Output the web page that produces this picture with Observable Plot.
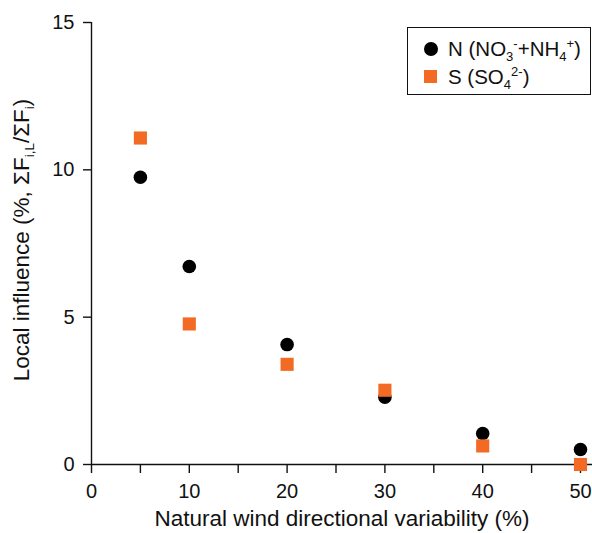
<!DOCTYPE html>
<html>
<head>
<meta charset="utf-8">
<script src="https://cdn.jsdelivr.net/npm/d3@7"></script>
<script src="https://cdn.jsdelivr.net/npm/@observablehq/plot@0.6"></script>
<style>
  html, body { margin: 0; padding: 0; background: #fff; }
  #wrap { position: relative; width: 592px; height: 533px; font-family: "Liberation Sans", Arial, sans-serif; }
  #legend { position: absolute; left: 407px; top: 27px; width: 184px; height: 68px; border: 1.3px solid #111; box-sizing: border-box; background: #fff; font-size: 20.5px; color: #111; }
  .item { position: absolute; left: 0; white-space: nowrap; }
  .sym { position: absolute; }
  .lab { position: absolute; left: 40px; top: 0; line-height: 22px; }
  sub, sup { font-size: 13px; line-height: 0; }
</style>
</head>
<body>
<div id="wrap"></div>
<script>
const windVariability = [5, 10, 20, 30, 40, 50];
const nitrogen = [9.75, 6.72, 4.07, 2.28, 1.05, 0.51];
const sulfur = [11.08, 4.77, 3.4, 2.52, 0.63, 0.0];
const xTicks = [0, 5, 10, 15, 20, 25, 30, 35, 40, 45, 50];
const yTicks = [0, 5, 10, 15];
const seriesNames = ["N", "S"];
const colors = { N: "#000000", S: "#f26a24" };

const rows = [];
windVariability.forEach((x, i) => {
  rows.push({ x, y: nitrogen[i], s: "N" });
  rows.push({ x, y: sulfur[i], s: "S" });
});

const plot = Plot.plot({
  width: 592,
  height: 533,
  marginLeft: 91,
  marginRight: 0,
  marginTop: 22,
  marginBottom: 69,
  style: { fontFamily: "Liberation Sans, Arial, sans-serif", fontSize: "20px", color: "#111", overflow: "visible" },
  x: { domain: [0, 50], range: [91, 580] },
  y: { domain: [0, 15] },
  marks: [
    Plot.axisX({ ticks: xTicks, tickSize: 9, tickPadding: 10, strokeWidth: 1.4, stroke: "#111",
      tickFormat: d => d % 10 === 0 ? d : "", fontSize: 20,
      label: "Natural wind directional variability (%)", labelAnchor: "center", labelArrow: "none", labelOffset: 61 }),
    Plot.axisY({ ticks: yTicks, tickSize: 8, tickPadding: 9, strokeWidth: 1.4, stroke: "#111", fontSize: 20, label: null }),
    Plot.ruleY([0], { stroke: "#111", strokeWidth: 1.4 }),
    Plot.ruleX([0], { stroke: "#111", strokeWidth: 1.4 }),
    Plot.dot(rows.filter(d => d.s === "N"), { x: "x", y: "y", r: 6.8, symbol: "circle", fill: colors.N, clip: false }),
    Plot.dot(rows.filter(d => d.s === "S"), { x: "x", y: "y", r: 7.4, symbol: "square", fill: colors.S, clip: false })
  ]
});

const wrap = document.getElementById("wrap");
wrap.appendChild(plot);

// enlarge x-axis title
d3.select(plot).selectAll("[aria-label='x-axis label'] text").attr("font-size", 22.5);

// y-axis title with subscripts
const svg = d3.select(plot);
const t = svg.append("text")
  .attr("transform", "translate(29,240) rotate(-90)")
  .attr("text-anchor", "middle")
  .attr("font-family", "Liberation Sans, Arial, sans-serif")
  .attr("font-size", 22.5)
  .attr("fill", "#111");
t.append("tspan").text("Local influence (%, ΣF");
t.append("tspan").attr("font-size", 13.5).attr("dy", 5).text("i,L");
t.append("tspan").attr("dy", -5).text("/ΣF");
t.append("tspan").attr("font-size", 13.5).attr("dy", 5).text("i");
t.append("tspan").attr("dy", -5).text(")");

// legend
const legend = document.createElement("div");
legend.id = "legend";
legend.innerHTML = `
  <div class="item" style="top:10px;width:100%">
    <span class="sym" style="left:16px;top:4px;width:14px;height:14px;border-radius:50%;background:${colors.N}"></span>
    <span class="lab">${seriesNames[0]} (NO<sub>3</sub><sup>-</sup>+NH<sub>4</sub><sup>+</sup>)</span>
  </div>
  <div class="item" style="top:38px;width:100%">
    <span class="sym" style="left:16px;top:4px;width:13px;height:13px;background:${colors.S}"></span>
    <span class="lab">${seriesNames[1]} (SO<sub>4</sub><sup>2-</sup>)</span>
  </div>`;
wrap.appendChild(legend);
</script>
</body>
</html>
